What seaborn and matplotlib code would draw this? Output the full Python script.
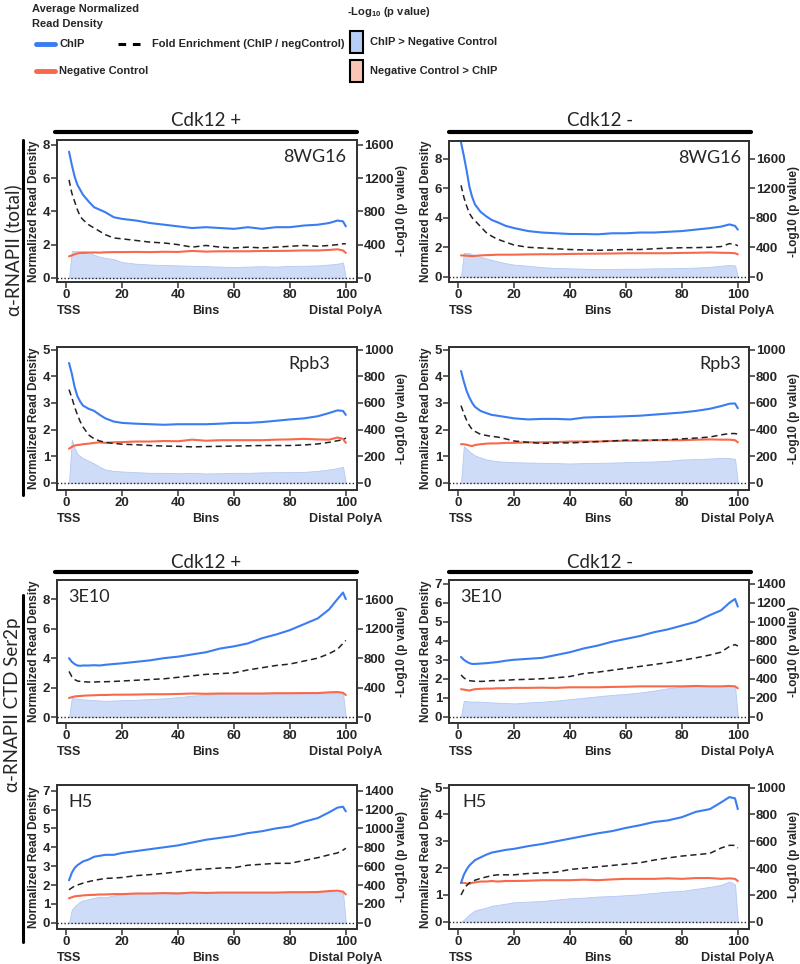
import matplotlib
matplotlib.use('Agg')
import matplotlib.pyplot as plt
import seaborn as sns
import numpy as np
import pandas as pd
from matplotlib import font_manager
from matplotlib.lines import Line2D
from matplotlib.patches import Rectangle

# bins along the gene body (TSS -> distal polyA)
bins = [1, 2, 3, 4, 5, 6, 8, 10, 12, 14, 17, 20, 25, 30, 35, 40, 45, 50, 55, 60,
        65, 70, 75, 80, 85, 90, 94, 97, 99, 100]

# 8WG16, Cdk12 +
wg16_plus_chip = [7.6, 6.8, 6.1, 5.6, 5.3, 5.0, 4.6, 4.25, 4.1, 3.95, 3.65, 3.55, 3.45, 3.3, 3.2, 3.1, 3.0, 3.05, 3.0, 2.95,
                  3.05, 2.95, 3.05, 3.05, 3.15, 3.2, 3.3, 3.45, 3.4, 3.1]
wg16_plus_neg = [1.3, 1.35, 1.42, 1.47, 1.5, 1.5, 1.52, 1.53, 1.52, 1.54, 1.55, 1.55, 1.56, 1.55, 1.57, 1.56, 1.62, 1.58, 1.6, 1.6,
                 1.6, 1.62, 1.62, 1.63, 1.65, 1.65, 1.68, 1.72, 1.65, 1.5]
wg16_plus_fold = [5.9, 5.1, 4.6, 4.1, 3.7, 3.5, 3.2, 3.0, 2.8, 2.6, 2.4, 2.35, 2.25, 2.15, 2.1, 2.0, 1.85, 1.95, 1.85, 1.8,
                  1.85, 1.8, 1.85, 1.9, 1.95, 1.9, 1.95, 2.0, 2.05, 2.05]
wg16_plus_logp = [0, 323, 323, 323, 323, 323, 315, 275, 255, 240, 225, 190, 170, 160, 155, 150, 145, 140, 135, 130,
                  135, 140, 135, 145, 145, 150, 160, 170, 185, 0]

# 8WG16, Cdk12 -
wg16_minus_chip = [9.1, 8.2, 7.2, 6.1, 5.4, 4.9, 4.4, 4.1, 3.85, 3.7, 3.45, 3.3, 3.1, 3.0, 2.95, 2.9, 2.9, 2.88, 2.95, 2.95,
                   3.0, 3.0, 3.05, 3.1, 3.2, 3.3, 3.4, 3.55, 3.45, 3.2]
wg16_minus_neg = [1.45, 1.45, 1.43, 1.42, 1.4, 1.42, 1.45, 1.47, 1.48, 1.5, 1.5, 1.5, 1.52, 1.53, 1.53, 1.55, 1.56, 1.57, 1.58, 1.6,
                  1.6, 1.6, 1.6, 1.62, 1.63, 1.65, 1.63, 1.62, 1.6, 1.52]
wg16_minus_fold = [6.2, 5.4, 4.8, 4.3, 4.0, 3.8, 3.4, 3.0, 2.75, 2.55, 2.35, 2.15, 2.0, 1.95, 1.9, 1.85, 1.82, 1.8, 1.82, 1.85,
                   1.85, 1.9, 1.95, 1.97, 1.98, 2.0, 2.05, 2.25, 2.2, 2.1]
wg16_minus_logp = [0, 323, 323, 320, 305, 290, 270, 250, 230, 210, 185, 165, 150, 130, 120, 115, 110, 105, 105, 110,
                   110, 115, 115, 120, 125, 135, 150, 160, 155, 0]

# Rpb3, Cdk12 +
rpb3_plus_chip = [4.5, 4.1, 3.6, 3.25, 3.05, 2.9, 2.78, 2.7, 2.55, 2.42, 2.3, 2.25, 2.22, 2.2, 2.18, 2.2, 2.2, 2.2, 2.22, 2.25,
                  2.25, 2.28, 2.33, 2.38, 2.42, 2.5, 2.62, 2.72, 2.7, 2.55]
rpb3_plus_neg = [1.28, 1.35, 1.4, 1.42, 1.43, 1.45, 1.47, 1.5, 1.52, 1.5, 1.52, 1.53, 1.55, 1.55, 1.57, 1.56, 1.62, 1.58, 1.6, 1.6,
                 1.6, 1.6, 1.62, 1.63, 1.65, 1.63, 1.62, 1.7, 1.65, 1.5]
rpb3_plus_fold = [3.5, 3.2, 2.85, 2.55, 2.3, 2.1, 1.8, 1.65, 1.57, 1.52, 1.48, 1.45, 1.43, 1.4, 1.38, 1.37, 1.35, 1.36, 1.37, 1.38,
                  1.39, 1.4, 1.4, 1.4, 1.42, 1.46, 1.52, 1.58, 1.62, 1.68]
rpb3_plus_logp = [0, 323, 260, 215, 200, 185, 165, 145, 120, 100, 90, 85, 80, 75, 75, 72, 75, 70, 72, 75,
                  75, 78, 80, 80, 82, 90, 100, 110, 120, 0]

# Rpb3, Cdk12 -
rpb3_minus_chip = [4.2, 3.8, 3.45, 3.2, 3.0, 2.85, 2.7, 2.62, 2.55, 2.52, 2.47, 2.42, 2.38, 2.4, 2.4, 2.38, 2.45, 2.47, 2.48, 2.5,
                   2.52, 2.56, 2.6, 2.64, 2.7, 2.78, 2.88, 2.97, 2.98, 2.8]
rpb3_minus_neg = [1.45, 1.45, 1.43, 1.4, 1.38, 1.42, 1.45, 1.47, 1.48, 1.48, 1.5, 1.5, 1.52, 1.52, 1.53, 1.55, 1.55, 1.55, 1.57, 1.58,
                  1.58, 1.6, 1.6, 1.6, 1.62, 1.63, 1.62, 1.62, 1.6, 1.52]
rpb3_minus_fold = [2.9, 2.6, 2.35, 2.15, 2.0, 1.93, 1.82, 1.78, 1.74, 1.72, 1.65, 1.57, 1.52, 1.48, 1.5, 1.5, 1.52, 1.55, 1.57, 1.6,
                   1.6, 1.6, 1.62, 1.65, 1.68, 1.72, 1.8, 1.85, 1.85, 1.83]
rpb3_minus_logp = [0, 275, 255, 235, 220, 205, 190, 175, 168, 162, 158, 155, 152, 150, 148, 145, 148, 150, 152, 155,
                   158, 160, 165, 175, 178, 182, 188, 185, 180, 0]

# 3E10, Cdk12 +
e10_plus_chip = [4.0, 3.75, 3.6, 3.5, 3.48, 3.5, 3.5, 3.52, 3.5, 3.55, 3.6, 3.65, 3.75, 3.85, 4.0, 4.1, 4.25, 4.4, 4.65, 4.8,
                 5.0, 5.35, 5.6, 5.9, 6.3, 6.7, 7.3, 8.0, 8.45, 8.0]
e10_plus_neg = [1.3, 1.35, 1.4, 1.42, 1.43, 1.45, 1.47, 1.48, 1.5, 1.5, 1.52, 1.52, 1.53, 1.55, 1.55, 1.57, 1.6, 1.58, 1.6, 1.6,
                1.6, 1.6, 1.62, 1.62, 1.63, 1.63, 1.68, 1.7, 1.65, 1.5]
e10_plus_fold = [3.1, 2.75, 2.55, 2.45, 2.42, 2.4, 2.38, 2.38, 2.4, 2.4, 2.42, 2.45, 2.5, 2.55, 2.6, 2.7, 2.8, 2.9, 2.95, 3.0,
                 3.2, 3.35, 3.5, 3.6, 3.8, 4.0, 4.3, 4.6, 5.0, 5.2]
e10_plus_logp = [0, 260, 255, 250, 245, 240, 235, 230, 225, 220, 225, 230, 235, 245, 255, 270, 290, 305, 315, 323,
                 323, 323, 323, 323, 323, 323, 323, 323, 323, 0]

# 3E10, Cdk12 -
e10_minus_chip = [3.15, 3.0, 2.9, 2.82, 2.78, 2.78, 2.8, 2.82, 2.85, 2.88, 2.95, 3.0, 3.05, 3.1, 3.25, 3.4, 3.6, 3.75, 3.95, 4.1,
                  4.25, 4.45, 4.6, 4.8, 5.0, 5.35, 5.6, 6.0, 6.2, 5.8]
e10_minus_neg = [1.45, 1.43, 1.4, 1.38, 1.42, 1.45, 1.47, 1.48, 1.48, 1.5, 1.5, 1.52, 1.52, 1.53, 1.52, 1.55, 1.55, 1.55, 1.57, 1.58,
                 1.6, 1.6, 1.6, 1.6, 1.62, 1.6, 1.6, 1.62, 1.6, 1.5]
e10_minus_fold = [2.2, 2.05, 1.95, 1.9, 1.88, 1.87, 1.86, 1.87, 1.9, 1.9, 1.92, 1.95, 1.97, 2.0, 2.05, 2.12, 2.28, 2.35, 2.45, 2.55,
                  2.65, 2.75, 2.85, 2.97, 3.1, 3.25, 3.4, 3.7, 3.8, 3.72]
e10_minus_logp = [0, 165, 165, 160, 160, 160, 158, 155, 150, 148, 145, 140, 150, 158, 170, 185, 200, 215, 230, 240,
                  255, 275, 300, 315, 323, 323, 323, 323, 323, 0]

# H5, Cdk12 +
h5_plus_chip = [2.25, 2.65, 2.9, 3.05, 3.15, 3.25, 3.35, 3.5, 3.55, 3.6, 3.6, 3.7, 3.8, 3.9, 4.0, 4.1, 4.25, 4.4, 4.5, 4.6,
                4.75, 4.85, 5.0, 5.1, 5.35, 5.55, 5.85, 6.1, 6.15, 5.9]
h5_plus_neg = [1.3, 1.35, 1.4, 1.42, 1.43, 1.45, 1.47, 1.48, 1.5, 1.5, 1.52, 1.52, 1.55, 1.55, 1.57, 1.55, 1.6, 1.58, 1.6, 1.6,
               1.6, 1.6, 1.6, 1.62, 1.62, 1.63, 1.68, 1.7, 1.65, 1.5]
h5_plus_fold = [1.75, 1.85, 1.95, 2.0, 2.05, 2.1, 2.18, 2.25, 2.3, 2.35, 2.37, 2.4, 2.5, 2.55, 2.62, 2.7, 2.8, 2.85, 2.9, 2.92,
                3.05, 3.1, 3.15, 3.15, 3.3, 3.45, 3.6, 3.7, 3.85, 3.95]
h5_plus_logp = [0, 140, 175, 200, 225, 235, 250, 265, 275, 270, 290, 300, 315, 320, 323, 323, 323, 323, 323, 323,
                323, 323, 323, 323, 323, 323, 323, 323, 323, 0]

# H5, Cdk12 -
h5_minus_chip = [1.45, 1.75, 1.95, 2.1, 2.2, 2.3, 2.4, 2.5, 2.58, 2.62, 2.68, 2.72, 2.82, 2.9, 3.0, 3.1, 3.2, 3.3, 3.38, 3.5,
                 3.6, 3.72, 3.78, 3.9, 4.1, 4.2, 4.45, 4.65, 4.6, 4.2]
h5_minus_neg = [1.45, 1.45, 1.43, 1.42, 1.45, 1.47, 1.5, 1.5, 1.52, 1.5, 1.52, 1.52, 1.53, 1.55, 1.55, 1.55, 1.57, 1.55, 1.58, 1.6,
                1.6, 1.6, 1.62, 1.6, 1.63, 1.63, 1.6, 1.62, 1.6, 1.52]
h5_minus_fold = [1.0, 1.2, 1.35, 1.45, 1.5, 1.55, 1.62, 1.67, 1.72, 1.75, 1.75, 1.75, 1.8, 1.82, 1.85, 1.95, 2.0, 2.05, 2.1, 2.15,
                 2.2, 2.3, 2.38, 2.45, 2.5, 2.55, 2.75, 2.85, 2.85, 2.75]
h5_minus_logp = [0, 15, 35, 55, 70, 85, 95, 105, 120, 125, 135, 145, 150, 155, 165, 175, 180, 188, 192, 198,
                 205, 215, 225, 230, 245, 260, 275, 300, 280, 0]

# fonts
names = {f.name for f in font_manager.fontManager.ttflist}
narrow = 'Liberation Sans Narrow' in names
BOLD = 'Liberation Sans Narrow' if narrow else 'Liberation Sans'
REG = 'Lato'
fs_small = 10 if narrow else 8.5
fs_leg = 10 if narrow else 8.0

sns.set_style('ticks')
plt.rcParams['font.family'] = [BOLD, 'DejaVu Sans']
plt.rcParams['mathtext.fontset'] = 'custom'
plt.rcParams['mathtext.rm'] = BOLD + ':bold'
plt.rcParams['axes.edgecolor'] = '#333333'

C_CHIP = '#3a7cf2'
C_NEG = '#f7694a'
C_FILL = '#cfdcf8'

W, H = 800, 964
fig = plt.figure(figsize=(W / 100, H / 100), dpi=100)


def fx(x):
    return x / W


def fy(y):
    return 1 - y / H


# (label, label side, chip, neg, fold, logp, ymin, ymax, ystep, rstep, left px, top px, bottom px, label x)
panels = [
    ('8WG16', 'right', wg16_plus_chip, wg16_plus_neg, wg16_plus_fold, wg16_plus_logp, -0.25, 8.3, 2, 400, 57, 140, 282, 0.965),
    ('8WG16', 'right', wg16_minus_chip, wg16_minus_neg, wg16_minus_fold, wg16_minus_logp, -0.35, 9.2, 2, 400, 449, 141, 282, 0.975),
    ('Rpb3', 'right', rpb3_plus_chip, rpb3_plus_neg, rpb3_plus_fold, rpb3_plus_logp, -0.27, 5.1, 1, 200, 57, 347, 490, 0.91),
    ('Rpb3', 'right', rpb3_minus_chip, rpb3_minus_neg, rpb3_minus_fold, rpb3_minus_logp, -0.27, 5.1, 1, 200, 449, 347, 490, 0.975),
    ('3E10', 'left', e10_plus_chip, e10_plus_neg, e10_plus_fold, e10_plus_logp, -0.4, 9.3, 2, 400, 57, 580, 723, 0.037),
    ('3E10', 'left', e10_minus_chip, e10_minus_neg, e10_minus_fold, e10_minus_logp, -0.33, 7.2, 1, 200, 449, 580, 723, 0.037),
    ('H5', 'left', h5_plus_chip, h5_plus_neg, h5_plus_fold, h5_plus_logp, -0.33, 7.3, 1, 200, 57, 785, 929, 0.037),
    ('H5', 'left', h5_minus_chip, h5_minus_neg, h5_minus_fold, h5_minus_logp, -0.27, 5.1, 1, 200, 449, 785, 929, 0.043),
]

for label, side, chip, neg, fold, logp, ymin, ymax, ystep, rstep, left, top, bottom, lx in panels:
    ax = fig.add_axes([fx(left), fy(bottom), fx(300), (bottom - top) / H])
    ax2 = ax.twinx()
    df = pd.DataFrame({'bin': bins, 'chip': chip, 'neg': neg, 'fold': fold, 'logp': logp})

    ax2.fill_between(df['bin'], 0, df['logp'], color=C_FILL, edgecolor='#b3c9f3', lw=0.6)
    ax2.set_ylim(ymin * 200, ymax * 200)
    ax2.set_yticks(np.arange(0, ymax * 200 + 1, rstep))
    ax2.set_ylabel('-Log10 (p value)', fontsize=fs_small, fontweight='bold', labelpad=2)

    ax.set_zorder(ax2.get_zorder() + 1)
    ax.patch.set_visible(False)
    sns.lineplot(data=df, x='bin', y='neg', ax=ax, color=C_NEG, lw=1.5)
    sns.lineplot(data=df, x='bin', y='fold', ax=ax, color='#222222', lw=1.1, linestyle=(0, (4, 2.5)))
    sns.lineplot(data=df, x='bin', y='chip', ax=ax, color=C_CHIP, lw=1.5)
    ax.axhline(0, color='#222222', lw=1, ls=(0, (1, 1.5)))

    ax.set_xlim(-3.3, 104)
    ax.set_ylim(ymin, ymax)
    ax.set_xticks([0, 20, 40, 60, 80, 100])
    ax.set_yticks(np.arange(0, ymax + 0.01, ystep))
    ax.set_xlabel('')
    ax.set_ylabel('Normalized Read Density', fontsize=fs_small, fontweight='bold', labelpad=2)

    for a in (ax, ax2):
        a.tick_params(labelsize=fs_small + 1, length=4, width=1.1, pad=1, color='#333333')
        for lbl in a.get_xticklabels() + a.get_yticklabels():
            lbl.set_fontweight('bold')
        for sp in a.spines.values():
            sp.set_visible(True)
            sp.set_linewidth(1.3)

    trans = ax.get_xaxis_transform()
    for xv, txt in [(1, 'TSS'), (50, 'Bins'), (100, 'Distal PolyA')]:
        ax.annotate(txt, xy=(xv, 0), xycoords=trans, xytext=(0, -21), textcoords='offset points',
                    ha='center', va='center', fontsize=fs_small + 0.5, fontweight='bold')

    ax.text(lx, 0.88, label, transform=ax.transAxes, ha=side, va='center',
            fontsize=13, family=REG)

# column headers with bars
for ytxt, ybar in [(120, 132), (562, 572)]:
    for x0, x1, txt in [(55, 357, 'Cdk12 +'), (449, 751, 'Cdk12 -')]:
        fig.text(fx((x0 + x1) / 2), fy(ytxt), txt, ha='center', va='center', fontsize=13.5, family=REG)
        fig.add_artist(Line2D([fx(x0), fx(x1)], [fy(ybar), fy(ybar)], color='black', lw=3))

# antibody group labels
for y0, y1, yc, txt in [(140, 495, 250, 'α-RNAPII (total)'), (595, 942, 705, 'α-RNAPII CTD Ser2p')]:
    fig.add_artist(Line2D([fx(23), fx(23)], [fy(y0), fy(y1)], color='black', lw=2.2))
    fig.text(fx(13), fy(yc), txt, rotation=90, ha='center', va='center', fontsize=13.5, family=REG)

# legend
fig.text(fx(32), fy(9), 'Average Normalized', ha='left', va='center', fontsize=fs_leg, fontweight='bold')
fig.text(fx(32), fy(24), 'Read Density', ha='left', va='center', fontsize=fs_leg, fontweight='bold')
fig.add_artist(Line2D([fx(36), fx(55)], [fy(44), fy(44)], color=C_CHIP, lw=3.5))
fig.text(fx(59), fy(44), 'ChIP', ha='left', va='center', fontsize=fs_leg, fontweight='bold')
fig.add_artist(Line2D([fx(118), fx(146)], [fy(44), fy(44)], color='black', lw=2.2, ls=(0, (2.5, 2.2))))
fig.text(fx(152), fy(44), 'Fold Enrichment (ChIP / negControl)', ha='left', va='center',
         fontsize=fs_leg, fontweight='bold')
fig.add_artist(Line2D([fx(36), fx(55)], [fy(71), fy(71)], color=C_NEG, lw=3.5))
fig.text(fx(59), fy(71), 'Negative Control', ha='left', va='center', fontsize=fs_leg, fontweight='bold')

fig.text(fx(347), fy(12), r'-Log$_{10}$ (p value)', ha='left', va='center', fontsize=fs_leg, fontweight='bold')
for ytop, col, txt in [(31, '#b6cdf6', 'ChIP > Negative Control'), (60, '#fbc5b5', 'Negative Control > ChIP')]:
    fig.add_artist(Rectangle((fx(350), fy(ytop + 22)), fx(13), 22 / H, facecolor=col, edgecolor='black',
                             lw=1.5, transform=fig.transFigure))
    fig.text(fx(370), fy(ytop + 11), txt, ha='left', va='center', fontsize=fs_leg, fontweight='bold')

fig.savefig('out.png', dpi=100)
